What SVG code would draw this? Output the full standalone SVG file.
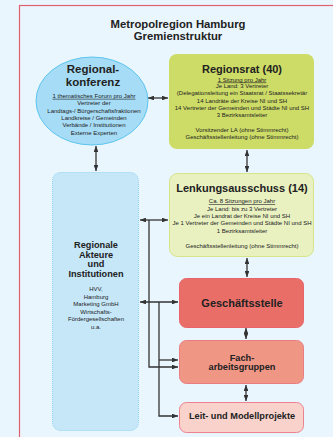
<svg xmlns="http://www.w3.org/2000/svg" width="333" height="437" viewBox="0 0 333 437">
<defs>
<style>
text{font-family:"Liberation Sans",Arial,sans-serif;fill:#222;text-anchor:middle}
.t{font-weight:bold;font-size:11.3px}
.h{font-weight:bold;font-size:11px}
.h12{font-weight:bold;font-size:11.5px}
.m{font-weight:bold;font-size:9.2px}
.s{font-size:6px}
.u{text-decoration:underline}
.c{fill:none;stroke:#333;stroke-width:1.3}
</style>
<marker id="ah" viewBox="0 0 10 8" refX="10" refY="4" markerWidth="6" markerHeight="4.8" markerUnits="userSpaceOnUse" orient="auto-start-reverse">
<path d="M0,0 L10,4 L0,8 z" fill="#333"/>
</marker>
</defs>
<rect x="0" y="0" width="333" height="437" fill="#eaf6fe"/>
<rect x="19.5" y="5.5" width="330" height="450" fill="#eaf6fe" stroke="#e0606e" stroke-width="1.2"/>
<g id="title">
<text class="t" x="178" y="27.7">Metropolregion Hamburg</text>
<text class="t" x="178" y="40">Gremienstruktur</text>
</g>
<g id="connectors">
<line class="c" x1="148" y1="98" x2="168" y2="98" marker-start="url(#ah)" marker-end="url(#ah)"/>
<line class="c" x1="96" y1="146" x2="96" y2="171" marker-start="url(#ah)" marker-end="url(#ah)"/>
<line class="c" x1="247" y1="150" x2="247" y2="172" marker-start="url(#ah)" marker-end="url(#ah)"/>
<line class="c" x1="247" y1="258" x2="247" y2="277" marker-start="url(#ah)" marker-end="url(#ah)"/>
<line class="c" x1="246" y1="328" x2="246" y2="339" marker-start="url(#ah)" marker-end="url(#ah)"/>
<line class="c" x1="246" y1="385" x2="246" y2="401" marker-start="url(#ah)" marker-end="url(#ah)"/>
<line class="c" x1="140" y1="220" x2="168" y2="220" marker-start="url(#ah)" marker-end="url(#ah)"/>
<line class="c" x1="140" y1="302" x2="178" y2="302" marker-start="url(#ah)" marker-end="url(#ah)"/>
<polyline class="c" points="149,220 149,367 178,367" marker-end="url(#ah)"/>
<polyline class="c" points="159,302 159,416 178,416" marker-end="url(#ah)"/>
<line class="c" x1="159" y1="360" x2="178" y2="360" marker-end="url(#ah)"/>
</g>
<g id="regionalkonferenz">
<ellipse cx="92" cy="101" rx="56" ry="44" fill="#a6dcf5" stroke="#5cc6ee" stroke-width="1"/>
<text class="h12" x="93" y="72.8">Regional-</text>
<text class="h12" x="93" y="86">konferenz</text>
<text class="s u" x="94" y="97.8">1 thematisches Forum pro Jahr</text>
<text class="s" x="94" y="104.8">Vertreter der</text>
<text class="s" x="94" y="112.6">Landtags-/ Bürgerschaftsfraktionen</text>
<text class="s" x="94" y="120">Landkreise / Gemeinden</text>
<text class="s" x="94" y="127.4">Verbände / Institutionen</text>
<text class="s" x="94" y="134.6">Externe Experten</text>
</g>
<g id="regionsrat">
<rect x="169" y="54" width="145" height="95" rx="8" fill="#cddc67"/>
<text class="h" x="242" y="72.5">Regionsrat (40)</text>
<text class="s u" x="242" y="81.5">1 Sitzung pro Jahr</text>
<text class="s" x="242" y="88">Je Land: 3 Vertreter</text>
<text class="s" x="242" y="95.3">(Delegationsleitung ein Staatsrat / Staatssekretär</text>
<text class="s" x="242" y="102.6">14 Landräte der Kreise NI und SH</text>
<text class="s" x="242" y="109.9">14 Vertreter der Gemeinden und Städte NI und SH</text>
<text class="s" x="242" y="117.2">3 Bezirksamtsleiter</text>
<text class="s" x="242" y="131.8">Vorsitzender LA (ohne Stimmrecht)</text>
<text class="s" x="242" y="139.1">Geschäftsstellenleitung (ohne Stimmrecht)</text>
</g>
<g id="lenkungsausschuss">
<rect x="169.5" y="173.5" width="144" height="83" rx="8" fill="#e9f1c0" stroke="#d6e58a" stroke-width="1"/>
<text class="h" x="242" y="192">Lenkungsausschuss (14)</text>
<text class="s u" x="242" y="203.3">Ca. 8 Sitzungen pro Jahr</text>
<text class="s" x="242" y="210.6">Je Land: bis zu 3 Vertreter</text>
<text class="s" x="242" y="218">Je ein Landrat der Kreise NI und SH</text>
<text class="s" x="242" y="225.4">Je 1 Vertreter der Gemeinden und Städte NI und SH</text>
<text class="s" x="242" y="232.8">1 Bezirksamtsleiter</text>
<text class="s" x="242" y="247.5">Geschäftsstellenleitung (ohne Stimmrecht)</text>
</g>
<g id="akteure">
<rect x="52.5" y="172.5" width="86" height="258" rx="8" fill="#c5e7f8" stroke="#8cd3f1" stroke-width="1" stroke-dasharray="1,1"/>
<text class="m" x="96" y="248.3">Regionale</text>
<text class="m" x="96" y="257.6">Akteure</text>
<text class="m" x="96" y="266.9">und</text>
<text class="m" x="96" y="276.6">Institutionen</text>
<text class="s" x="96" y="291">HVV,</text>
<text class="s" x="96" y="298.6">Hamburg</text>
<text class="s" x="96" y="306.2">Marketing GmbH</text>
<text class="s" x="96" y="313.8">Wirtschafts-</text>
<text class="s" x="96" y="321.2">Fördergesellschaften</text>
<text class="s" x="96" y="328.5">u.a.</text>
</g>
<g id="geschaeftsstelle">
<rect x="179.5" y="278.5" width="124" height="49" rx="7" fill="#e96e67" stroke="#e8646a" stroke-width="1"/>
<text class="h" x="242" y="307">Geschäftsstelle</text>
</g>
<g id="facharbeitsgruppen">
<rect x="179.5" y="340.5" width="124" height="43" rx="7" fill="#ef9685" stroke="#ea7d83" stroke-width="1"/>
<text class="m" x="242" y="360.5">Fach-</text>
<text class="m" x="242" y="370">arbeitsgruppen</text>
</g>
<g id="leitprojekte">
<rect x="179.5" y="402.5" width="124" height="30" rx="7" fill="#f8d2cb" stroke="#ec8190" stroke-width="1"/>
<text class="m" x="242" y="419">Leit- und Modellprojekte</text>
</g>
</svg>
